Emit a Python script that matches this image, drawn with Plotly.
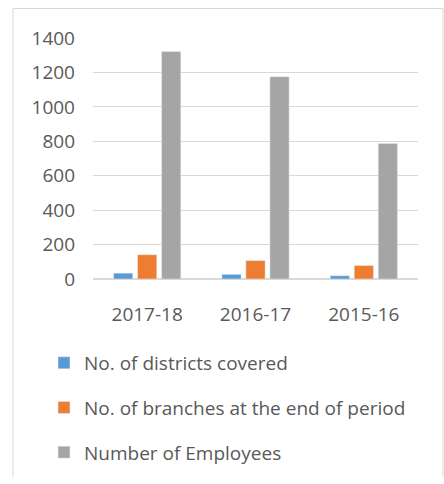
import plotly.graph_objects as go

categories = ["2017-18", "2016-17", "2015-16"]
districts = [34, 27, 19]
branches = [141, 107, 78]
employees = [1321, 1175, 787]
series_names = ["No. of districts covered", "No. of branches at the end of period", "Number of Employees"]
colors = ["#5B9BD5", "#ED7D31", "#A5A5A5"]
tick_vals = [0, 200, 400, 600, 800, 1000, 1200, 1400]

W, H = 444, 484
L, R, T, B = 93, 26, 38, 201
pw, ph = W - L - R, H - T - B

fig = go.Figure()
for i, (name, vals) in enumerate(zip(series_names, [districts, branches, employees])):
    fig.add_trace(go.Bar(x=categories, y=vals, name=name, marker_color=colors[i],
                         legendgroup=f"g{i}"))

def px_x(x):
    return (x - L) / pw

def px_y(y):
    return (H - B - y) / ph

border = dict(color="#D9D9D9", width=1)
fig.update_layout(
    width=W, height=H,
    margin=dict(l=L, r=R, t=T, b=B),
    paper_bgcolor="white", plot_bgcolor="white",
    barmode="group", bargap=0.335, bargroupgap=0.2,
    font=dict(family="Open Sans", size=19, color="#595959"),
    xaxis=dict(showgrid=False, showline=False, ticks="", tickfont=dict(size=19),
               ticklabelstandoff=22),
    yaxis=dict(range=[0, 1400], tickvals=tick_vals, showgrid=True, gridcolor="#D9D9D9",
               gridwidth=1, zeroline=True, zerolinecolor="#D9D9D9", ticks="",
               tickfont=dict(size=19), ticklabelstandoff=17),
    showlegend=True,
    legend=dict(orientation="v", x=px_x(44), y=px_y(349), xanchor="left", yanchor="top",
                tracegroupgap=17, font=dict(size=19, color="#595959"), itemwidth=30),
    shapes=[
        dict(type="line", xref="paper", yref="paper", x0=px_x(13), x1=px_x(443),
             y0=px_y(8), y1=px_y(8), line=border, layer="below"),
        dict(type="line", xref="paper", yref="paper", x0=px_x(13), x1=px_x(13),
             y0=px_y(8), y1=px_y(484), line=border, layer="below"),
        dict(type="line", xref="paper", yref="paper", x0=px_x(443), x1=px_x(443),
             y0=px_y(8), y1=px_y(484), line=border, layer="below"),
    ],
)

fig.write_html("out.html")
